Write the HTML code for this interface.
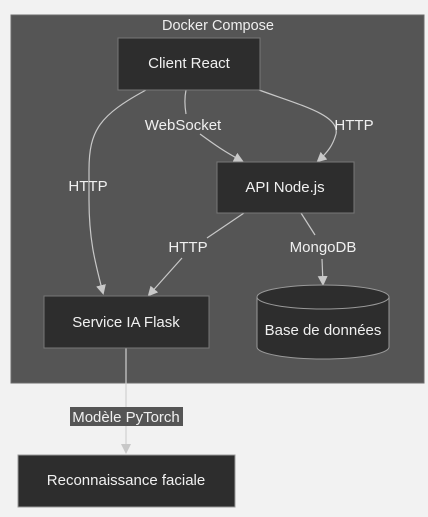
<!DOCTYPE html>
<html><head><meta charset="utf-8"><style>
body{margin:0;background:#f2f2f2;}
svg{display:block;font-family:"Liberation Sans","DejaVu Sans",sans-serif;}
</style></head><body>
<svg width="428" height="517" viewBox="0 0 428 517">
<defs><marker id="a" markerWidth="10" markerHeight="10" refX="8" refY="5" orient="auto" markerUnits="userSpaceOnUse"><path d="M0,0 L10,5 L0,10 z" fill="#c8c8c8"/></marker></defs>
<rect x="11" y="15" width="413" height="368" fill="#555" stroke="#6c6c6c"/>
<text x="218" y="30" fill="#eee" font-size="14.5" text-anchor="middle">Docker Compose</text>
<g fill="none" stroke="#c8c8c8" stroke-width="1.2">
<path d="M146,90 C100,115 89,130 89,170 L89,200 C89,240 95,262 103,293" marker-end="url(#a)"/>
<path d="M186,90 C184,100 185,108 186,114"/>
<path d="M200,134 C215,145 225,152 242,161" marker-end="url(#a)"/>
<path d="M259,90 C300,105 340,115 336,134 C333,145 328,152 318,161" marker-end="url(#a)"/>
<path d="M244,213 L207,238"/>
<path d="M182,258 L149,295" marker-end="url(#a)"/>
<path d="M301,213 L315,235"/>
<path d="M322,259 L323,284" marker-end="url(#a)"/>
</g>
<path d="M126,348 L126,452" stroke="#d0d0d0" stroke-width="1.2" fill="none" marker-end="url(#a)"/>
<g font-size="15" fill="#f0f0f0" text-anchor="middle">
<text x="88" y="191">HTTP</text>
<text x="183" y="130">WebSocket</text>
<text x="354" y="130">HTTP</text>
<text x="188" y="252">HTTP</text>
<text x="323" y="252">MongoDB</text>
</g>
<g stroke="#777" stroke-width="1">
<rect x="118" y="38" width="142" height="52" fill="#2d2d2d"/>
<rect x="217" y="162" width="137" height="51" fill="#2d2d2d"/>
<rect x="44" y="296" width="165" height="52" fill="#2d2d2d"/>
<rect x="18" y="455" width="217" height="52" fill="#2d2d2d" stroke="#999"/>
<path d="M257,297 L257,347 A66,12 0 0 0 389,347 L389,297 A66,12 0 0 0 257,297 A66,12 0 0 0 389,297" fill="#2d2d2d" stroke="#999"/>
</g>
<rect x="70" y="407" width="113" height="19" fill="#555"/>
<g font-size="15" fill="#f0f0f0" text-anchor="middle">
<text x="189" y="68">Client React</text>
<text x="285" y="192">API Node.js</text>
<text x="126" y="327">Service IA Flask</text>
<text x="323" y="335">Base de données</text>
<text x="126" y="485">Reconnaissance faciale</text>
<text x="126" y="422">Modèle PyTorch</text>
</g>
</svg>
</body></html>
